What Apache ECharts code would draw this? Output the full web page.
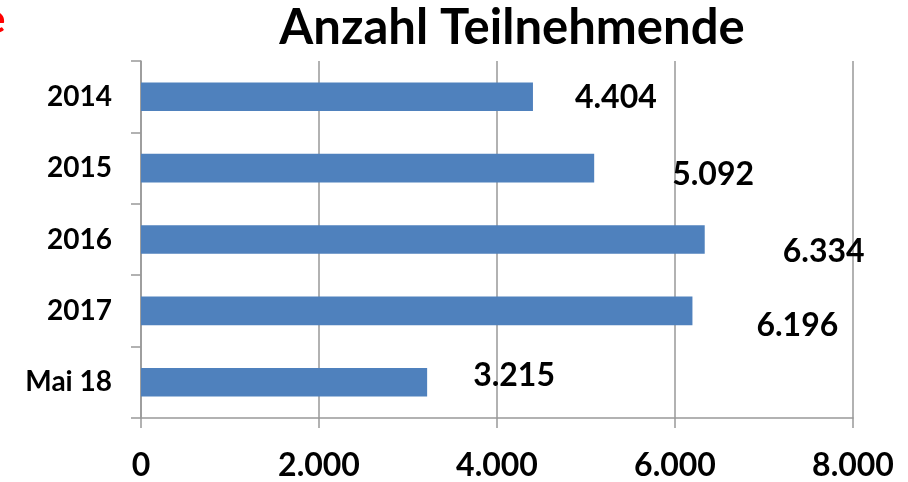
<!DOCTYPE html>
<html>
<head>
    <meta charset="utf-8"/>
    <script src="https://cdn.jsdelivr.net/npm/echarts@6/dist/echarts.min.js"></script>
    <style>
        html, body { margin: 0; padding: 0; background: #fff; }
    </style>
</head>
<body>
<div id="main" style="width: 908px;height:482px;"></div>
<script type="text/javascript">
    var chartDom = document.getElementById('main');
    var myChart = echarts.init(chartDom);
    var option;

    // Daten
    var categories = ['2014', '2015', '2016', '2017', 'Mai 18'];
    var teilnehmende = [4404, 5092, 6334, 6196, 3215];
    var xTicks = [0, 2000, 4000, 6000, 8000];

    // deutsche Tausenderpunkte
    function fmt(v) {
        return String(v).replace(/\B(?=(\d{3})+(?!\d))/g, '.');
    }

    // Beschriftungen sitzen im Original etwas versetzt
    var labelShift = [[42, 1], [78, 7], [78, 12], [64, 15], [46, -7]];

    var fontFam = 'Lato, "Open Sans", sans-serif';

    option = {
        animation: false,
        title: {
            text: 'Anzahl Teilnehmende',
            left: 507,
            top: -1,
            textAlign: 'center',
            textStyle: { fontSize: 49, fontWeight: 'bold', color: '#000', fontFamily: fontFam }
        },
        graphic: [{
            type: 'text',
            left: -16,
            top: 0,
            style: { text: 'e', fill: '#ff0000', font: 'bold 40px ' + fontFam }
        }],
        grid: { left: 141, right: 55, top: 61, bottom: 63 },
        xAxis: {
            type: 'value',
            min: xTicks[0],
            max: xTicks[xTicks.length - 1],
            interval: 2000,
            axisLine: { show: true, lineStyle: { color: '#999', width: 1.5 } },
            axisTick: { show: true, length: 10, lineStyle: { color: '#999', width: 1.5 } },
            splitLine: { show: true, lineStyle: { color: '#999', width: 1.5 } },
            axisLabel: {
                margin: 32,
                fontSize: 32,
                fontWeight: 'bold',
                color: '#000',
                fontFamily: fontFam,
                formatter: function (v) { return fmt(v); }
            }
        },
        yAxis: {
            type: 'category',
            inverse: true,
            data: categories,
            axisLine: { show: true, lineStyle: { color: '#999', width: 1.5 } },
            axisTick: { show: true, length: 10, lineStyle: { color: '#999', width: 1.5 } },
            axisLabel: {
                margin: 29,
                fontSize: 28,
                fontWeight: 'bold',
                color: '#000',
                fontFamily: fontFam
            }
        },
        series: [{
            type: 'bar',
            barCategoryGap: '60%',
            itemStyle: { color: '#4f81bd' },
            data: teilnehmende.map(function (v, i) {
                return {
                    value: v,
                    label: { offset: labelShift[i] }
                };
            }),
            label: {
                show: true,
                position: 'right',
                distance: 0,
                fontSize: 32,
                fontWeight: 'bold',
                color: '#000',
                fontFamily: fontFam,
                formatter: function (p) { return fmt(p.value); }
            }
        }]
    };

    option && myChart.setOption(option);
</script>
</body>
</html>
